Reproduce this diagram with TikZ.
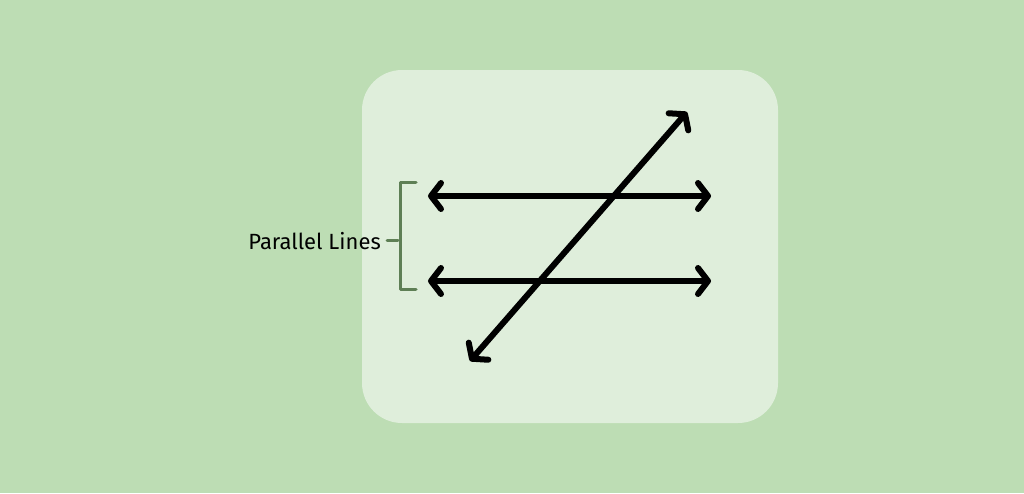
\documentclass[tikz,border=0pt]{standalone}
\usepackage{fontspec}
\newfontfamily\handfont{Fira Sans}
\usetikzlibrary{arrows.meta}
\definecolor{bggreen}{HTML}{BDDDB4}
\definecolor{boxgreen}{HTML}{DFEEDB}
\definecolor{bracegreen}{HTML}{5E7F55}
\begin{document}
\begin{tikzpicture}[x=1pt,y=-1pt,line cap=round,line join=round,
  line node/.style={line width=6pt,{Straight Barb[length=10pt,width=26pt,line width=6pt,round]}-{Straight Barb[length=10pt,width=26pt,line width=6pt,round]}},
  brace node/.style={draw=bracegreen,line width=3pt},
  label node/.style={font=\handfont\fontsize{22}{26}\selectfont,text=black,inner sep=0pt}]
            \fill[bggreen] (0,0) rectangle (1024,493);
            \fill[boxgreen,rounded corners=40pt] (362,70) rectangle (778,423);

            \coordinate (1) at (428,196);
            \coordinate (2) at (711,196);
            \coordinate (3) at (428,281);
            \coordinate (4) at (711,281);
            \coordinate (5) at (470,361);
            \coordinate (6) at (687,112);

            \draw[line node] (1) -- (2);
            \draw[line node] (3) -- (4);
            \draw[line node] (5) -- (6);

            \coordinate (7) at (416,182);
            \coordinate (8) at (416,289);
            \coordinate (9) at (387,240);
            \draw[brace node] (7) -- (400,182) -- (400,289) -- (8);
            \draw[brace node] (9) -- (398,240);
            \node[label node,anchor=east] (10) at (381,241) {Parallel Lines};
\end{tikzpicture}
\end{document}
